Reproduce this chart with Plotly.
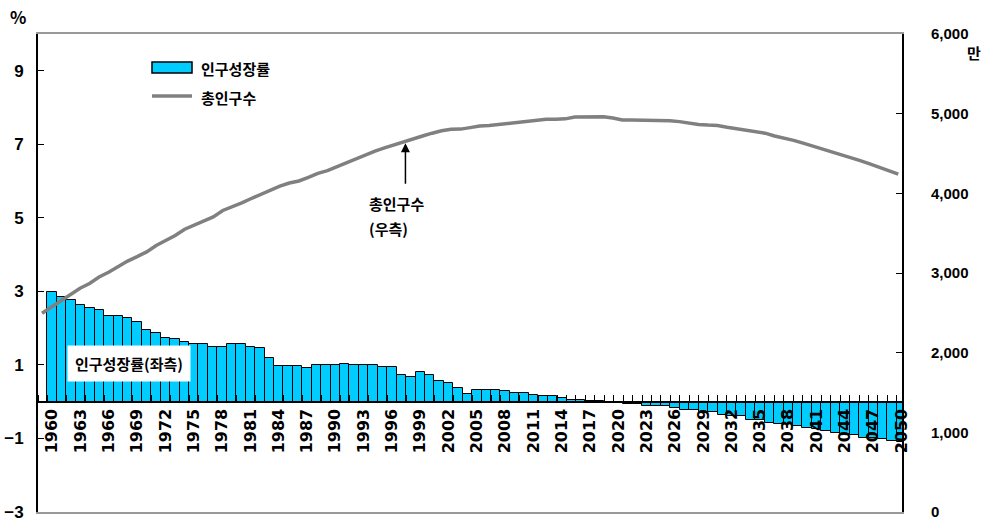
import plotly.graph_objects as go

# 연도 (1960 ~ 2050)
YEARS = list(range(1960, 2051))

# 인구성장률 (%, 좌측)
GROWTH = [
    2.99, 2.86, 2.77, 2.63, 2.56, 2.49, 2.33, 2.33, 2.27, 2.18,  # 1960-69
    1.95, 1.86, 1.72, 1.70, 1.63, 1.56, 1.56, 1.49, 1.49, 1.56,  # 1970-79
    1.56, 1.50, 1.47, 1.19, 0.97, 0.97, 0.97, 0.93, 0.99, 0.99,  # 1980-89
    0.99, 1.03, 1.00, 1.00, 1.00, 0.95, 0.95, 0.72, 0.68, 0.81,  # 1990-99
    0.73, 0.55, 0.50, 0.37, 0.21, 0.33, 0.33, 0.33, 0.28, 0.23,  # 2000-09
    0.23, 0.19, 0.15, 0.15, 0.09, 0.05, 0.04, 0.02, 0.01, 0.00,  # 2010-19
    -0.03, -0.07, -0.07, -0.12, -0.12, -0.12, -0.16, -0.22, -0.22, -0.29,  # 2020-29
    -0.29, -0.36, -0.39, -0.39, -0.51, -0.51, -0.58, -0.61, -0.61, -0.65,  # 2030-39
    -0.71, -0.75, -0.80, -0.85, -0.88, -0.91, -0.98, -0.98, -1.02, -1.07,  # 2040-49
    -1.10,                                                           # 2050
]

# 총인구수 (만명, 우측)
POPULATION = [
    2494, 2570, 2650, 2730, 2808, 2868, 2950, 3010, 3085, 3150,  # 1960-69
    3205, 3265, 3345, 3405, 3470, 3550, 3605, 3650, 3705, 3785,  # 1970-79
    3830, 3880, 3935, 3990, 4042, 4090, 4130, 4155, 4200, 4250,  # 1980-89
    4285, 4335, 4390, 4430, 4480, 4530, 4570, 4610, 4650, 4690,  # 1990-99
    4720, 4755, 4785, 4803, 4806, 4825, 4845, 4852, 4865, 4880,  # 2000-09
    4895, 4910, 4920, 4929, 4931, 4935, 4958, 4962, 4962, 4962,  # 2010-19
    4945, 4922, 4920, 4920, 4920, 4920, 4912, 4900, 4880, 4865,  # 2020-29
    4857, 4852, 4830, 4812, 4795, 4775, 4755, 4720, 4695, 4665,  # 2030-39
    4630, 4595, 4560, 4520, 4485, 4450, 4410, 4370, 4330, 4285,  # 2040-49
    4242,                                                        # 2050
]

X_TICK_YEARS = list(range(1960, 2051, 3))
LEFT_TICKS = [-3, -1, 1, 3, 5, 7, 9]
RIGHT_TICKS = [0, 1000, 2000, 3000, 4000, 5000, 6000]

BAR_COLOR = '#00CCFF'
LINE_COLOR = '#808080'
KR_FONT = 'Noto Sans CJK KR'
NUM_FONT = 'Liberation Sans, sans-serif'


def px_x(p):
    # 픽셀 -> paper 좌표 (plot 영역 38~902)
    return (p - 38) / 864


def px_y(p):
    # 픽셀 -> paper 좌표 (plot 영역 34~512)
    return (512 - p) / 478


def label(text, x, y, xanchor='left', size=15, **kw):
    return dict(text=f'<b>{text}</b>', x=px_x(x), y=px_y(y), xref='paper', yref='paper',
                xanchor=xanchor, yanchor='middle', showarrow=False,
                font=dict(family=KR_FONT, size=size, color='black'), **kw)


fig = go.Figure()

fig.add_trace(go.Bar(
    x=YEARS,
    y=GROWTH,
    name='인구성장률',
    marker=dict(color=BAR_COLOR, line=dict(color='black', width=1)),
    xaxis='x',
    yaxis='y',
))

fig.add_trace(go.Scatter(
    x=YEARS,
    y=POPULATION,
    name='총인구수',
    mode='lines',
    line=dict(color=LINE_COLOR, width=3.5),
    xaxis='x2',
    yaxis='y2',
))

annotations = [
    label('%', 18, 17, xanchor='center', size=17),
    label('만', 974, 52, xanchor='center'),
    # 범례
    label('인구성장률', 199, 68),
    label('총인구수', 199, 97),
    # 좌측 라벨 박스
    label('인구성장률(좌측)', 129, 363, xanchor='center', bgcolor='white', borderpad=7),
    # 총인구수 화살표
    dict(text='', x=1998.2, y=4630, xref='x2', yref='y2',
         showarrow=True, ax=0, ay=42, arrowhead=2, arrowsize=1.2, arrowwidth=1.5,
         arrowcolor='black'),
    label('총인구수', 367, 203),
    label('(우측)', 367, 228),
]

shapes = [
    dict(type='rect', xref='paper', yref='paper',
         x0=px_x(152), x1=px_x(192), y0=px_y(73), y1=px_y(62),
         fillcolor=BAR_COLOR, line=dict(color='black', width=1.5)),
    dict(type='line', xref='paper', yref='paper',
         x0=px_x(152), x1=px_x(192), y0=px_y(96), y1=px_y(96),
         line=dict(color=LINE_COLOR, width=3.5)),
]

fig.update_layout(
    width=986,
    height=528,
    margin=dict(l=38, r=84, t=34, b=16, autoexpand=False),
    paper_bgcolor='white',
    plot_bgcolor='white',
    showlegend=False,
    bargap=0,
    xaxis=dict(
        range=[1958.5, 2050.05],
        anchor='free',
        position=3 / 13,
        automargin=False,
        showline=True,
        linecolor='black',
        linewidth=1.5,
        showgrid=False,
        zeroline=False,
        tickmode='array',
        tickvals=X_TICK_YEARS,
        ticktext=[str(y) for y in X_TICK_YEARS],
        ticks='',
        tickangle=-90,
        tickfont=dict(family='DejaVu Sans', size=16, color='black', weight='bold'),
        minor=dict(ticks='inside', ticklen=6, tickcolor='black', tickwidth=1,
                   tick0=1959.5, dtick=1, showgrid=False),
    ),
    yaxis=dict(
        range=[-3, 10],
        tickvals=LEFT_TICKS,
        automargin=False,
        showline=True,
        linecolor='black',
        linewidth=2,
        ticks='inside',
        ticklen=6,
        tickcolor='black',
        showgrid=False,
        zeroline=False,
        ticklabelstandoff=9,
        tickfont=dict(family=NUM_FONT, size=17, color='black', weight='bold'),
    ),
    xaxis2=dict(
        range=[1959.58, 2050.39],
        overlaying='x',
        anchor='y2',
        automargin=False,
        showline=True,
        mirror=True,
        linecolor='#999999',
        linewidth=1.5,
        showgrid=False,
        zeroline=False,
        showticklabels=False,
        ticks='',
    ),
    yaxis2=dict(
        range=[0, 6000],
        overlaying='y',
        side='right',
        anchor='x2',
        automargin=False,
        tickvals=RIGHT_TICKS,
        tickformat=',d',
        showline=True,
        linecolor='black',
        linewidth=2,
        ticks='inside',
        ticklen=6,
        tickcolor='black',
        showgrid=False,
        zeroline=False,
        ticklabelstandoff=24,
        tickfont=dict(family=NUM_FONT, size=15, color='black', weight='bold'),
    ),
    annotations=annotations,
    shapes=shapes,
)

# 페이지 기본 여백 제거
fig.write_html("out.html", config={'displayModeBar': False},
               post_script="document.body.style.margin='0';")
